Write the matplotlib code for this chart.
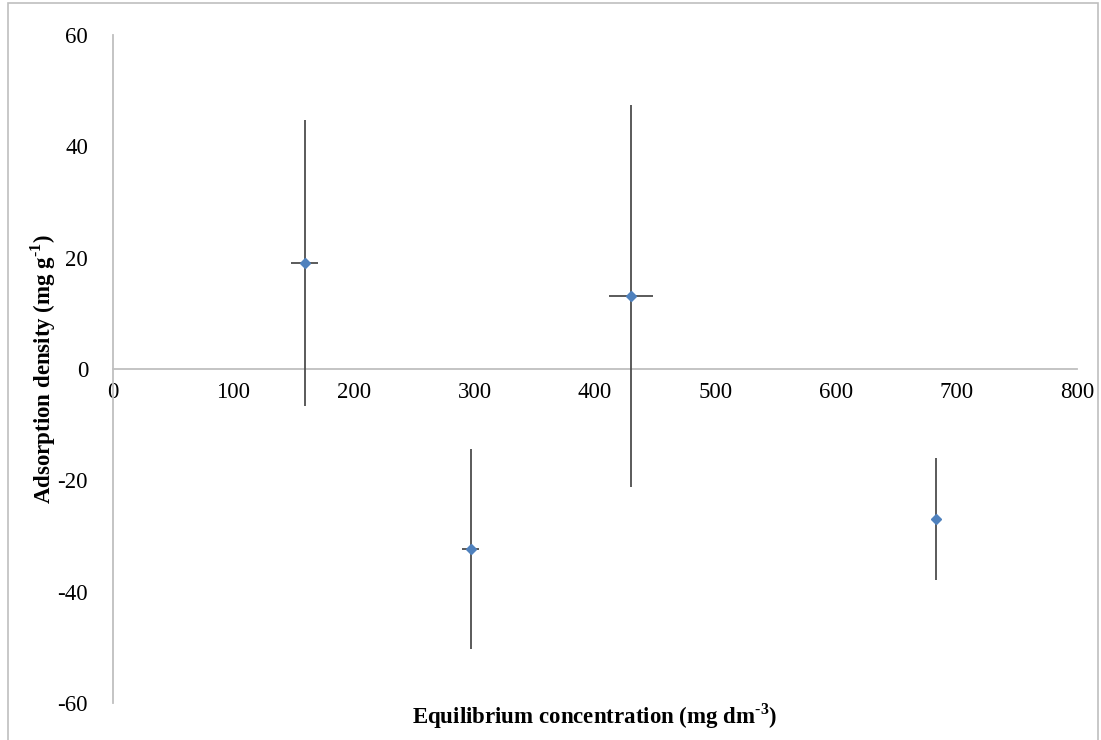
import matplotlib.pyplot as plt
from matplotlib.patches import Rectangle

plt.rcParams['font.family'] = ['Liberation Serif', 'DejaVu Serif']
plt.rcParams['mathtext.fontset'] = 'custom'
plt.rcParams['mathtext.rm'] = 'Liberation Serif'
plt.rcParams['mathtext.bf'] = 'Liberation Serif:bold'
plt.rcParams['axes.unicode_minus'] = False

# Datos
conc = [159, 297, 430, 683]
density = [19.0, -32.3, 13.1, -26.9]
density_err = [25.7, 18.0, 34.3, 11.0]
conc_err = [11, 7, 18, 3]

x_ticks = [0, 100, 200, 300, 400, 500, 600, 700, 800]
y_ticks = [-60, -40, -20, 0, 20, 40, 60]

fig = plt.figure(figsize=(11.01, 7.40), dpi=100)
ax = fig.add_axes([113 / 1101, 37 / 740, 964 / 1101, 668 / 740])

ax.errorbar(conc, density, yerr=density_err, xerr=conc_err, fmt='D',
            color='#4F81BD', markersize=5, ecolor='#4D4D4D', elinewidth=1.3,
            capsize=0, zorder=3)

ax.set_xlim(0, 800)
ax.set_ylim(-60, 60)
ax.set_xticks(x_ticks)
ax.set_yticks(y_ticks)

for side in ['top', 'right']:
    ax.spines[side].set_visible(False)
ax.spines['left'].set_position(('data', 0))
ax.spines['bottom'].set_position(('data', 0))
ax.spines['left'].set_color('#BFBFBF')
ax.spines['bottom'].set_color('#BFBFBF')
ax.spines['left'].set_linewidth(1.3)
ax.spines['bottom'].set_linewidth(1.3)

ax.tick_params(axis='both', length=0, labelsize=16.5)
ax.tick_params(axis='x', pad=9)
ax.tick_params(axis='y', pad=18)

hy = '\u2010'
ax.set_xlabel('Equilibrium concentration (mg dm$^{\\mathbf{' + hy + '3}}$)',
              fontsize=16.5, fontweight='bold')
ax.set_ylabel('Adsorption density (mg g$^{\\mathbf{' + hy + '1}}$)',
              fontsize=16.5, fontweight='bold')
ax.xaxis.set_label_coords(0.5, -0.02)
ax.xaxis.label.set_va('center')
ax.yaxis.set_label_coords(-0.072, 0.5)
ax.yaxis.label.set_va('center')

# borde del gráfico
fig.patches.append(Rectangle((8 / 1101, -0.01), 1090 / 1101, 1.0 - 3 / 740 + 0.01,
                             transform=fig.transFigure, fill=False,
                             edgecolor='#BFBFBF', linewidth=1.2))

fig.savefig('out.png', dpi=100)
